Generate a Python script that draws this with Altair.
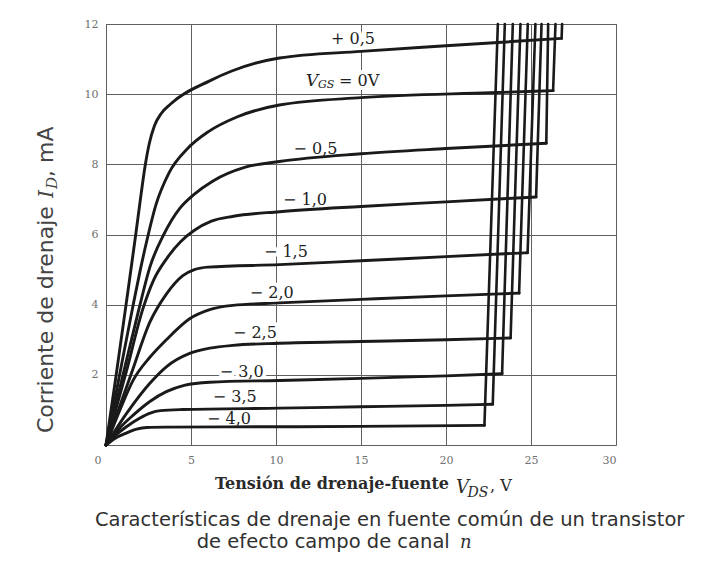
import altair as alt
import pandas as pd

# ---------------- data ----------------
series = ["+0,5", "0", "-0,5", "-1,0", "-1,5", "-2,0", "-2,5", "-3,0", "-3,5", "-4,0"]

vds_p05 = [0, 0.6, 1.18, 1.75, 2.05, 2.3, 2.55, 2.85, 3.25, 3.8, 6.1, 7.4, 10.2, 15, 20, 26.8]
id_p05 = [0, 2.0, 4.0, 6.0, 7.1, 7.95, 8.6, 9.1, 9.45, 9.72, 10.38, 10.66, 11.03, 11.22, 11.38, 11.59]

vds_0 = [0, 0.8, 1.6, 2.0, 2.39, 2.94, 3.7, 4.8, 6.05, 7.7, 10.2, 15, 22.6, 26.3]
id_0 = [0, 2.0, 4.0, 4.95, 5.8, 6.85, 7.75, 8.45, 8.94, 9.35, 9.69, 9.9, 10.04, 10.1]

vds_m05 = [0, 1.0, 1.9, 2.6, 3.4, 4.35, 5.2, 6.27, 8.2, 10.2, 15, 20, 25.9]
id_m05 = [0, 2.0, 3.8, 5.1, 6.0, 6.75, 7.15, 7.52, 7.92, 8.08, 8.3, 8.45, 8.6]

vds_m10 = [0, 1.2, 2.15, 2.8, 3.55, 4.4, 5.2, 6.2, 7.5, 10.2, 15, 20, 25.3]
id_m10 = [0, 2.1, 3.85, 4.7, 5.3, 5.8, 6.12, 6.38, 6.52, 6.65, 6.8, 6.93, 7.07]

vds_m15 = [0, 1.5, 2.58, 3.55, 4.5, 5.2, 6.0, 10.2, 15, 20, 24.8]
id_m15 = [0, 2.05, 3.5, 4.3, 4.82, 5.0, 5.07, 5.14, 5.25, 5.37, 5.48]

vds_m20 = [0, 0.82, 1.6, 2.58, 3.55, 4.92, 6.1, 7.46, 10.2, 15, 20, 24.3]
id_m20 = [0, 1.0, 1.85, 2.5, 3.0, 3.6, 3.86, 3.98, 4.05, 4.15, 4.25, 4.33]

vds_m25 = [0, 1.21, 2.58, 3.55, 4.92, 6.1, 7.46, 10.2, 15, 20, 23.8]
id_m25 = [0, 0.9, 1.76, 2.23, 2.61, 2.76, 2.84, 2.9, 2.95, 3.0, 3.05]

vds_m30 = [0, 0.8, 1.6, 2.58, 3.55, 4.6, 6.1, 10.2, 15, 20, 23.3]
id_m30 = [0, 0.48, 0.85, 1.24, 1.52, 1.7, 1.79, 1.84, 1.9, 1.97, 2.03]

vds_m35 = [0, 0.5, 1.2, 2.0, 2.6, 3.2, 4.5, 10.2, 15, 20, 22.75]
id_m35 = [0, 0.25, 0.52, 0.77, 0.91, 0.98, 1.01, 1.05, 1.09, 1.13, 1.16]

vds_m40 = [0, 0.5, 1.2, 1.8, 2.4, 3.5, 10.2, 15, 22.26]
id_m40 = [0, 0.18, 0.34, 0.45, 0.5, 0.51, 0.52, 0.53, 0.56]

# breakdown (near-vertical rise up to the top of the grid)
bd_v_top = [26.83, 26.44, 26.01, 25.62, 25.26, 24.81, 24.38, 23.93, 23.46, 23.05]
bd_i_top = [12, 12, 12, 12, 12, 12, 12, 12, 12, 12]

# curve labels
label_text = ["+ 0,5", "− 0,5", "− 1,0", "− 1,5", "− 2,0", "− 2,5", "− 3,0", "− 3,5", "− 4,0"]
label_v = [14.53, 12.32, 11.71, 10.58, 9.75, 8.76, 7.98, 7.57, 7.24]
label_i = [11.57, 8.45, 6.97, 5.50, 4.33, 3.18, 2.08, 1.38, 0.73]

# "V_GS = 0V" label pieces
gs_text = ["V", "GS", "= 0V"]
gs_v = [11.76, 12.47, 13.71]
gs_i = [10.23, 10.17, 10.23]

x_ticks = [0, 5, 10, 15, 20, 25, 30]
y_ticks = [2, 4, 6, 8, 10, 12]

# ---------------- tables ----------------
curve_lists = [
    (vds_p05, id_p05), (vds_0, id_0), (vds_m05, id_m05), (vds_m10, id_m10),
    (vds_m15, id_m15), (vds_m20, id_m20), (vds_m25, id_m25), (vds_m30, id_m30),
    (vds_m35, id_m35), (vds_m40, id_m40),
]
rows = []
for name, (vs, cs) in zip(series, curve_lists):
    for k, (v, c) in enumerate(zip(vs, cs)):
        rows.append({"vgs": name, "k": k, "vds": v, "id": c})
curve_df = pd.DataFrame(rows)

bd_df = pd.DataFrame({
    "vgs": series,
    "v0": [vs[-1] for vs, _ in curve_lists],
    "i0": [cs[-1] for _, cs in curve_lists],
    "v1": bd_v_top,
    "i1": bd_i_top,
})
label_df = pd.DataFrame({"t": label_text, "v": label_v, "i": label_i})
gs_df = pd.DataFrame({"t": gs_text, "v": gs_v, "i": gs_i})

W, H = 510, 421
INK = "#1a1a1a"

x_scale = alt.Scale(domain=[0, 30], nice=False, zero=False)
y_scale = alt.Scale(domain=[0, 12], nice=False)

x_axis = alt.Axis(
    values=x_ticks, title=None, grid=True, ticks=False, domain=False,
    labelFont="DejaVu Serif", labelFontSize=11, labelColor="#707070",
    labelPadding=9, gridColor="#606060", gridWidth=1,
    labelOffset={"condition": {"test": "datum.value === 0", "value": -12}, "value": 0},
)
y_axis = alt.Axis(
    values=y_ticks, title=None, grid=True, ticks=False, domain=False,
    labelFont="DejaVu Serif", labelFontSize=11, labelColor="#707070",
    labelPadding=8, gridColor="#606060", gridWidth=1,
)

X = alt.X("vds:Q", scale=x_scale, axis=x_axis)
Y = alt.Y("id:Q", scale=y_scale, axis=y_axis)

curves = alt.Chart(curve_df).mark_line(
    interpolate="monotone", color=INK, strokeWidth=2.9, strokeCap="round"
).encode(x=X, y=Y, detail="vgs:N", order="k:Q")

breakdown = alt.Chart(bd_df).mark_rule(
    color=INK, strokeWidth=2.6, strokeCap="round"
).encode(
    x=alt.X("v0:Q", scale=x_scale), y=alt.Y("i0:Q", scale=y_scale),
    x2="v1:Q", y2="i1:Q",
)

lab_common = dict(font="DejaVu Serif", fontSize=16, baseline="middle", align="center")
label_halo = alt.Chart(label_df).mark_text(
    color="white", stroke="white", strokeWidth=8, strokeJoin="round", **lab_common
).encode(x=alt.X("v:Q", scale=x_scale), y=alt.Y("i:Q", scale=y_scale), text="t:N")
labels = alt.Chart(label_df).mark_text(color="#222222", **lab_common).encode(
    x=alt.X("v:Q", scale=x_scale), y=alt.Y("i:Q", scale=y_scale), text="t:N"
)


def gs_piece(idx, size, style, halo=False):
    d = gs_df.iloc[[idx]]
    kw = dict(font="DejaVu Serif", fontSize=size, fontStyle=style,
              align="left", baseline="alphabetic")
    if halo:
        kw.update(color="white", stroke="white", strokeWidth=8, strokeJoin="round")
    else:
        kw.update(color="#222222")
    return alt.Chart(d).mark_text(**kw).encode(
        x=alt.X("v:Q", scale=x_scale), y=alt.Y("i:Q", scale=y_scale), text="t:N"
    )


gs_specs = [(0, 17, "italic"), (1, 11, "italic"), (2, 16, "normal")]
gs_halo = [gs_piece(i, s, st, True) for i, s, st in gs_specs]
gs_lab = [gs_piece(i, s, st) for i, s, st in gs_specs]


def txt(text, px, py, **kw):
    base = dict(baseline="alphabetic", align="left", color="#2a2a2a")
    base.update(kw)
    return alt.Chart(pd.DataFrame({"t": [text]})).mark_text(**base).encode(
        x=alt.value(px), y=alt.value(py), text="t:N"
    )


# x-axis title: Tensión de drenaje-fuente V_DS, V
xt = [
    txt("Tensión de drenaje-fuente", 343, 465, align="right",
        font="DejaVu Serif", fontWeight="bold", fontSize=16),
    txt("V", 350, 469, font="DejaVu Serif", fontStyle="italic", fontSize=18),
    txt("DS", 361.5, 473, font="DejaVu Serif", fontStyle="italic", fontSize=14),
    txt(", V", 384, 467, font="DejaVu Serif", fontSize=16),
]

# y-axis title: Corriente de drenaje I_D, mA (rotated)
yt = [
    txt("Corriente de drenaje", -53, 409, angle=270, font="DejaVu Sans",
        fontSize=22, color="#444444"),
    txt("I", -53, 174, angle=270, font="DejaVu Serif", fontStyle="italic",
        fontSize=20, color="#444444"),
    txt("D", -49, 165, angle=270, font="DejaVu Serif", fontStyle="italic",
        fontSize=15, color="#444444"),
    txt(", mA", -53, 153, angle=270, font="DejaVu Sans", fontSize=22,
        color="#444444"),
]

# caption
cap = [
    txt("Características de drenaje en fuente común de un transistor", -11, 502,
        font="DejaVu Sans", fontSize=19.5, color="#303030"),
    txt("de efecto campo de canal", 90.7, 524, font="DejaVu Sans",
        fontSize=19.5, color="#303030"),
    txt("n", 354, 524, font="DejaVu Serif", fontStyle="italic", fontSize=18,
        color="#303030"),
]

chart = alt.layer(
    label_halo, *gs_halo, curves, breakdown, labels, *gs_lab, *xt, *yt, *cap
).properties(
    width=W, height=H,
    padding={"left": 98, "top": 16, "right": 77, "bottom": 108},
    autosize=alt.AutoSizeParams(type="none"),
    background="white",
).configure_view(stroke="#606060", strokeWidth=1)

chart.save("out.html", embed_options={"renderer": "svg", "actions": False})
